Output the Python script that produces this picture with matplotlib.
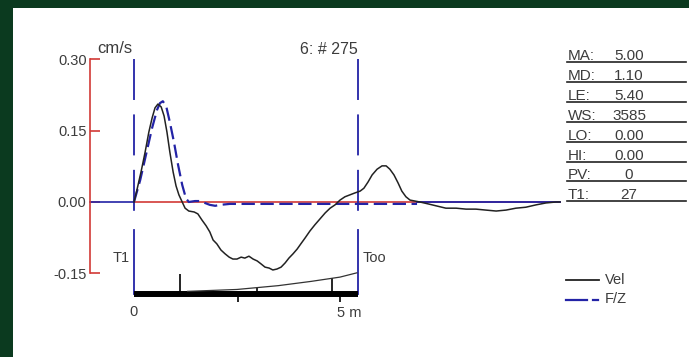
import matplotlib.pyplot as plt
from matplotlib.patches import Rectangle

plt.rcParams['font.family'] = ['Liberation Sans', 'DejaVu Sans']

W, H = 689, 357

# velocity trace (cm/s) against walkway distance (m)
vel_x = [0.0, 0.07, 0.17, 0.27, 0.36, 0.44, 0.51, 0.58, 0.66, 0.73, 0.80, 0.87, 0.95, 1.02,
         1.09, 1.17, 1.24, 1.33, 1.46, 1.55, 1.65, 1.75, 1.84, 1.92, 2.01, 2.11, 2.21, 2.31,
         2.40, 2.50, 2.60, 2.69, 2.79, 2.89, 2.99, 3.08, 3.18, 3.28, 3.37, 3.47, 3.57, 3.67,
         3.76, 3.86, 3.96, 4.05, 4.15, 4.27, 4.39, 4.51, 4.64, 4.76, 4.88, 5.00, 5.12, 5.24,
         5.36, 5.49, 5.58, 5.68, 5.78, 5.90, 6.02, 6.12, 6.21, 6.31, 6.41, 6.50, 6.60, 6.70,
         6.82, 6.94, 7.14, 7.33, 7.57, 7.82, 8.06, 8.30, 8.54, 8.79, 9.03, 9.27, 9.51, 9.76,
         10.00, 10.24, 10.34]
vel_y = [0.0, 0.025, 0.063, 0.105, 0.147, 0.177, 0.198, 0.206, 0.200, 0.181, 0.147, 0.105,
         0.063, 0.034, 0.015, 0.0, -0.013, -0.019, -0.021, -0.025, -0.038, -0.050, -0.063,
         -0.080, -0.088, -0.101, -0.109, -0.116, -0.120, -0.120, -0.116, -0.118, -0.114,
         -0.120, -0.124, -0.130, -0.137, -0.139, -0.143, -0.141, -0.137, -0.128, -0.118,
         -0.109, -0.099, -0.088, -0.076, -0.061, -0.048, -0.036, -0.023, -0.013, -0.006,
         0.004, 0.011, 0.015, 0.019, 0.023, 0.029, 0.042, 0.057, 0.069, 0.076, 0.076, 0.069,
         0.057, 0.040, 0.023, 0.011, 0.004, 0.002, 0.0, -0.004, -0.008, -0.013, -0.013,
         -0.015, -0.015, -0.017, -0.019, -0.017, -0.013, -0.011, -0.006, -0.002, 0.0, 0.0]

# F/Z trace
fz_x = [0.0, 0.15, 0.29, 0.44, 0.56, 0.63, 0.70, 0.78, 0.87, 0.97, 1.07, 1.17, 1.26, 1.33,
        1.48, 1.60, 1.72, 1.84, 1.97, 2.09, 2.33, 6.87]
fz_y = [0.0, 0.046, 0.099, 0.156, 0.194, 0.208, 0.212, 0.202, 0.168, 0.126, 0.078, 0.036,
        0.008, 0.0, 0.002, 0.002, -0.002, -0.006, -0.008, -0.006, -0.004, -0.004]
fz_tail_x = [6.87, 10.34]
fz_tail_y = [0.0, 0.0]

# footprint ruler under the trace
ruler_y = -0.194
ruler_end = 5.44
up_ticks = [1.12, 2.99, 4.81]
up_tops = [-0.151, -0.181, -0.160]
down_ticks = [2.52, 5.0]
down_bottom = -0.210
slope_x = [1.3, 2.5, 3.5, 4.3, 5.0, 5.41]
slope_y = [-0.188, -0.184, -0.176, -0.167, -0.158, -0.149]

t1_pos = 0.0
too_pos = 5.44
axis_x = -1.068

yticks = [-0.15, 0.0, 0.15, 0.30]
ytick_labels = ['-0.15', '0.00', '0.15', '0.30']

stat_names = ['MA:', 'MD:', 'LE:', 'WS:', 'LO:', 'HI:', 'PV:', 'T1:']
stat_values = ['5.00', '1.10', '5.40', '3585', '0.00', '0.00', '0', '27']

RED = '#d23a36'
BLUE = '#2323a6'
TXT = '#3c3c3c'

fig = plt.figure(figsize=(W / 100, H / 100), dpi=100, facecolor='#0b3a1f')
ax = fig.add_axes([0, 0, 1, 1])
ax.set_facecolor('none')
ax.add_patch(Rectangle((13 / W, 0), 1, (H - 8) / H, transform=ax.transAxes,
                       facecolor='white', edgecolor='none', zorder=-10))
ax.set_xlim(-134 / 41.2, (W - 134) / 41.2)
ax.set_ylim((202 - H) * 0.15 / 71.3, 202 * 0.15 / 71.3)

for s in ['top', 'right', 'bottom']:
    ax.spines[s].set_visible(False)
ax.spines['left'].set_position(('data', axis_x))
ax.spines['left'].set_bounds(-0.15, 0.30)
ax.spines['left'].set_color(RED)
ax.spines['left'].set_linewidth(1.2)
ax.set_xticks([])
ax.set_yticks(yticks, ytick_labels)
ax.tick_params(axis='y', direction='in', length=7, width=1.2, color=RED,
               labelcolor=TXT, labelsize=10.5, pad=2.5)

# zero line
ax.plot([axis_x, t1_pos], [0, 0], color=BLUE, lw=1.2)
ax.plot([t1_pos, vel_x[-1]], [0, 0], color=RED, lw=1.2)

# T1 / Too markers
lw_v = 1.3
for xp in [t1_pos, too_pos]:
    ax.plot([xp, xp], [0.30, -0.023], color=BLUE, lw=lw_v,
            dashes=(29.5 / lw_v, 10.4 / lw_v))
    ax.plot([xp, xp], [-0.059, ruler_y], color=BLUE, lw=lw_v)

ax.plot(fz_x, fz_y, color=BLUE, lw=1.6, dashes=(6, 2.5))
ax.plot(fz_tail_x, fz_tail_y, color=BLUE, lw=1.3)
ax.plot(vel_x, vel_y, color='#222222', lw=1.1)

# ruler
ax.plot([t1_pos, ruler_end], [ruler_y, ruler_y], color='black', lw=4.3, solid_capstyle='butt')
ax.vlines(up_ticks, ruler_y, up_tops, color='black', lw=1.2)
ax.vlines(down_ticks, down_bottom, ruler_y, color='black', lw=1.2)
ax.plot(slope_x, slope_y, color='#333333', lw=0.9)

ax.text(-0.1, -0.118, 'T1', ha='right', va='center', color=TXT, fontsize=10.5)
ax.text(too_pos + 0.1, -0.118, 'Too', ha='left', va='center', color=TXT, fontsize=10.5)
ax.text(t1_pos, -0.232, '0', ha='center', va='center', color=TXT, fontsize=10.5)
ax.text(4.93, -0.234, '5 m', ha='left', va='center', color=TXT, fontsize=10.5)


def fx(px):
    return px / W


def fy(py):
    return 1 - py / H


ax.text(fx(97), fy(53), 'cm/s', transform=ax.transAxes, ha='left', va='baseline',
        color=TXT, fontsize=12)
ax.text(fx(358), fy(54), '6: # 275', transform=ax.transAxes, ha='right', va='baseline',
        color=TXT, fontsize=11.5)

# stats table
row_lines = [62, 82, 102, 122, 142, 162, 181, 201]
for name, val, ly in zip(stat_names, stat_values, row_lines):
    ax.text(fx(568), fy(ly - 2), name, transform=ax.transAxes, ha='left', va='baseline',
            color=TXT, fontsize=11)
    ax.text(fx(629), fy(ly - 2), val, transform=ax.transAxes, ha='center', va='baseline',
            color=TXT, fontsize=11)
    ax.plot([fx(567), fx(686)], [fy(ly), fy(ly)], transform=ax.transAxes, color='#222222', lw=1.2)

# legend
ax.plot([fx(566), fx(599)], [fy(280), fy(280)], transform=ax.transAxes, color='#222222', lw=1.3)
ax.text(fx(605), fy(280), 'Vel', transform=ax.transAxes, ha='left', va='center',
        color=TXT, fontsize=10.5)
ax.plot([fx(566), fx(587)], [fy(300), fy(300)], transform=ax.transAxes, color=BLUE, lw=1.6)
ax.plot([fx(593), fx(598)], [fy(300), fy(300)], transform=ax.transAxes, color=BLUE, lw=1.6)
ax.text(fx(605), fy(299), 'F/Z', transform=ax.transAxes, ha='left', va='center',
        color=TXT, fontsize=10.5)

fig.savefig('out.png', dpi=100, facecolor=fig.get_facecolor())
